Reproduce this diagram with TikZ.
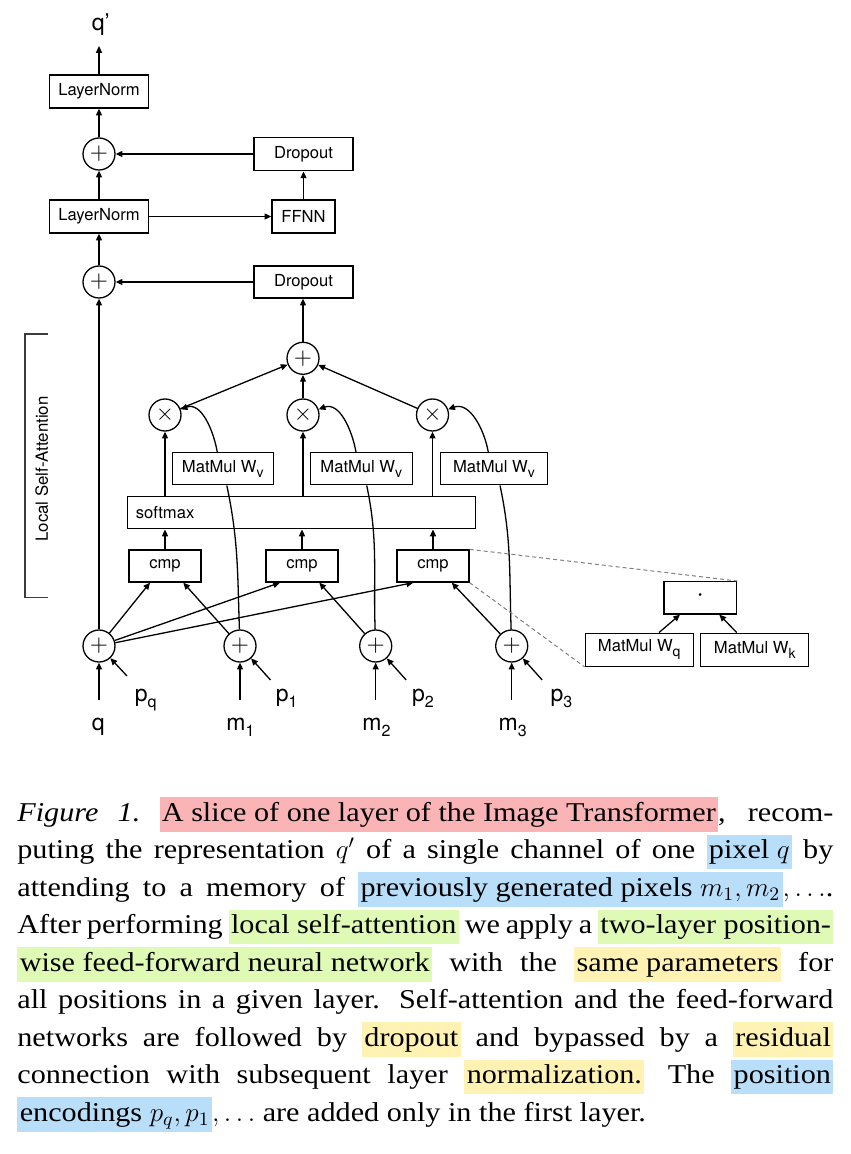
\RequirePackage{fix-cm}
\documentclass[tikz,border=0pt]{standalone}
\usepackage{fontspec}
\setsansfont{TeX Gyre Heros}
\newfontfamily\capfont[FakeStretch=1.11]{Liberation Serif}
\usetikzlibrary{arrows.meta,calc}
\definecolor{hlpink}{RGB}{250,180,182}
\definecolor{hlblue}{RGB}{185,222,250}
\definecolor{hlgreen}{RGB}{222,250,180}
\definecolor{hlyellow}{RGB}{255,242,178}
\definecolor{dashgray}{RGB}{128,128,128}
\definecolor{brgray}{RGB}{60,60,60}
\newcommand\hlt[2]{{\setlength{\fboxsep}{0pt}\colorbox{#1}{\rule[-5.3pt]{0pt}{17.2pt}\hspace{1.2pt}#2\hspace{1.2pt}}}}
\newcommand\capline[1]{\hbox to\hsize{#1}}
\newcommand\lsub[1]{\raisebox{-2.6pt}{\fontsize{7pt}{8pt}\selectfont #1}}
\newcommand\lsubb[1]{\raisebox{-3pt}{\fontsize{8pt}{9pt}\selectfont #1}}
\begin{document}
\begin{tikzpicture}[x=0.5pt,y=-0.5pt,
  box/.style={draw, line width=0.65pt, inner sep=0pt, font=\sffamily\fontsize{8.3pt}{10pt}\selectfont, minimum height=16pt},
  opnode/.style={circle, draw, line width=0.65pt, inner sep=0pt, minimum size=16pt, font=\fontsize{11.7pt}{12pt}\selectfont},
  arr/.style={line width=0.65pt, -{Triangle[length=3.4pt,width=3pt]}},
  ln/.style={line width=0.65pt},
  lbl/.style={font=\sffamily\fontsize{11.5pt}{12pt}\selectfont, inner sep=0pt},
  dsh/.style={draw=dashgray, line width=0.5pt, dash pattern=on 2pt off 1.5pt}]
\useasboundingbox (0,0) rectangle (850,1154);

% upper part
\node[box, minimum width=49.5pt, minimum height=16.5pt] (ln1) at (99,91.5) {LayerNorm};
\node[opnode] (add1) at (99,154) {$+$};
\node[box, minimum width=49.5pt, minimum height=16.8pt] (drop1) at (303.5,154) {Dropout};
\node[box, minimum width=49.5pt, minimum height=16.5pt] (ln2) at (99,216.5) {LayerNorm};
\node[box, minimum width=31.5pt, minimum height=16.5pt] (ffnn) at (303.5,216.5) {FFNN};
\node[opnode] (add2) at (99,282) {$+$};
\node[box, minimum width=49.5pt] (drop2) at (303.5,282) {Dropout};
\node[lbl, anchor=base west] (qout) at (91.5,30.7) {q’};
\coordinate (qtop) at (99,46);

% attention
\node[opnode] (sum) at (303,358.3) {$+$};
\node[opnode] (mul1) at (165,415) {$\times$};
\node[opnode] (mul2) at (303,415) {$\times$};
\node[opnode] (mul3) at (432.5,415) {$\times$};
\node[box, minimum width=50.5pt] (wv1) at (222.8,468.8) {MatMul W\lsub{v}};
\node[box, minimum width=51pt] (wv2) at (361.3,468.8) {MatMul W\lsub{v}};
\node[box, minimum width=53.5pt] (wv3) at (494,468.8) {MatMul W\lsub{v}};
\node[box, text width=166pt, inner xsep=4pt, align=left] (soft) at (301.8,512.8) {softmax};
\node[box, minimum width=36pt] (cmp1) at (165,566) {cmp};
\node[box, minimum width=36pt] (cmp2) at (302,566) {cmp};
\node[box, minimum width=36pt] (cmp3) at (433,566) {cmp};

% inputs
\node[opnode] (aq) at (99,646) {$+$};
\node[opnode] (a1) at (240,646) {$+$};
\node[opnode] (a2) at (375.7,646) {$+$};
\node[opnode] (a3) at (511.7,646) {$+$};
\node[lbl, anchor=base west] (lq) at (91.5,730) {q};
\node[lbl, anchor=base west] (lpq) at (134.5,701.7) {p\lsubb{q}};
\node[lbl, anchor=base west] (lm1) at (226,730) {m\lsubb{1}};
\node[lbl, anchor=base west] (lp1) at (275.5,701.7) {p\lsubb{1}};
\node[lbl, anchor=base west] (lm2) at (362,730) {m\lsubb{2}};
\node[lbl, anchor=base west] (lp2) at (411.8,701.7) {p\lsubb{2}};
\node[lbl, anchor=base west] (lm3) at (498.3,730) {m\lsubb{3}};
\node[lbl, anchor=base west] (lp3) at (550.2,701.7) {p\lsubb{3}};
\coordinate (qin) at (99,699.5);
\coordinate (m1in) at (240,699.5);
\coordinate (m2in) at (375.7,699.5);
\coordinate (m3in) at (511.7,699.5);
\coordinate (pqin) at ($(aq)+(28,30)$);
\coordinate (p1in) at ($(a1)+(30.5,34)$);
\coordinate (p2in) at ($(a2)+(30.5,34)$);
\coordinate (p3in) at ($(a3)+(30.5,34)$);

% detail
\node[box, minimum width=36.35pt, minimum height=16.15pt, font=\sffamily\fontsize{13pt}{13pt}\selectfont] (dot) at (700.3,597.8) {·};
\node[box, minimum width=54pt, minimum height=16.5pt] (wq) at (639.2,649.7) {MatMul W\lsub{q}};
\node[box, minimum width=54pt, minimum height=16.5pt] (wk) at (754.8,649.7) {MatMul W\lsub{k}};

% bracket
\draw[line width=0.65pt, draw=brgray] (47.7,334) -- (25,334) -- (25,597.3) -- (47.7,597.3);
\node[font=\sffamily\fontsize{8.4pt}{10pt}\selectfont, rotate=90, inner sep=0pt] (lsa) at (41.7,469) {Local Self-Attention};

% connectors upper
\draw[arr] (ln1) -- (qtop);
\draw[arr] (add1) -- (ln1);
\draw[arr] (ln2) -- (add1);
\draw[arr] (add2) -- (ln2);
\draw[arr] (aq) -- (add2);
\draw[arr] (drop1) -- (add1);
\draw[arr] (ln2) -- (ffnn);
\draw[arr] (ffnn) -- (drop1);
\draw[arr] (drop2) -- (add2);
\draw[arr] (sum) -- (sum |- drop2.south);

% attention connectors
\draw[arr] (mul1) -- (sum);
\draw[arr] (mul2) -- (sum);
\draw[arr] (mul3) -- (sum);
\draw[arr] (soft.north -| mul1) -- (mul1);
\draw[arr] (soft.north -| mul2) -- (mul2);
\draw[arr] (soft.north -| mul3) -- (mul3);
\draw[arr] (cmp1) -- (cmp1 |- soft.south);
\draw[arr] (cmp2) -- (cmp2 |- soft.south);
\draw[arr] (cmp3) -- (cmp3 |- soft.south);
\draw[arr] (aq) -- ($(cmp1.south)+(-15,0)$);
\draw[arr] (aq) -- ($(cmp2.south)+(-22,0)$);
\draw[arr] (aq) -- ($(cmp3.south)+(-19.7,0)$);
\draw[arr] (a1) -- ($(cmp1.south)+(18.3,0)$);
\draw[arr] (a2) -- ($(cmp2.south)+(17.3,0)$);
\draw[arr] (a3) -- ($(cmp3.south)+(18.7,0)$);
\draw[ln] (a1) to[out=92,in=-78] ($(wv1.south)+(4,0)$);
\draw[ln] (a2) to[out=92,in=-78] ($(wv2.south)+(5.4,0)$);
\draw[ln] (a3) to[out=92,in=-78] ($(wv3.south)+(6,0)$);
\draw[arr] ($(wv1.north)+(-5.5,0)$) to[out=100,in=20] (mul1);
\draw[arr] ($(wv2.north)+(-5.3,0)$) to[out=100,in=20] (mul2);
\draw[arr] ($(wv3.north)+(-5.7,0)$) to[out=100,in=20] (mul3);

% inputs connectors
\draw[arr] (qin) -- (aq);
\draw[arr] (m1in) -- (a1);
\draw[arr] (m2in) -- (a2);
\draw[arr] (m3in) -- (a3);
\draw[arr] (pqin) -- (aq);
\draw[arr] (p1in) -- (a1);
\draw[arr] (p2in) -- (a2);
\draw[arr] (p3in) -- (a3);

% detail connectors
\draw[dsh] (cmp3.north east) -- (dot.north east);
\draw[dsh] (cmp3.south east) -- (wq.south west);
\draw[arr] ($(wq.north)+(19.8,0)$) -- ($(dot.south)+(-20.3,0)$);
\draw[arr] ($(wk.north)+(-18.1,0)$) -- ($(dot.south)+(19,0)$);

% caption
\node[anchor=base west, inner sep=0pt] (caption) at (17,821) {\parbox[t]{408pt}{\capfont\fontsize{13.6pt}{18.75pt}\selectfont
\spaceskip=\fontdimen2\font plus 2\fontdimen3\font minus 0.5\fontdimen2\font
\capline{\textit{Figure 1.}\ \hlt{hlpink}{A slice of one layer of the Image Transformer}, recom-}
\capline{puting the representation $q'$ of a single channel of one \hlt{hlblue}{pixel $q$} by}
\capline{attending to a memory of \hlt{hlblue}{previously generated pixels $m_1, m_2$}$, \ldots$.}
\capline{After performing \hlt{hlgreen}{local self-attention} we apply a \hlt{hlgreen}{two-layer position-}}
\capline{\hlt{hlgreen}{wise feed-forward neural network} with the \hlt{hlyellow}{same parameters} for}
\capline{all positions in a given layer. Self-attention and the feed-forward}
\capline{networks are followed by \hlt{hlyellow}{dropout} and bypassed by a \hlt{hlyellow}{residual}}
\capline{connection with subsequent layer \hlt{hlyellow}{normalization.}\hspace{0.25em} The \hlt{hlblue}{position}}
\hbox{\hlt{hlblue}{encodings $p_q, p_1$}$, \ldots$ are added only in the first layer.}
}};
\end{tikzpicture}
\end{document}
